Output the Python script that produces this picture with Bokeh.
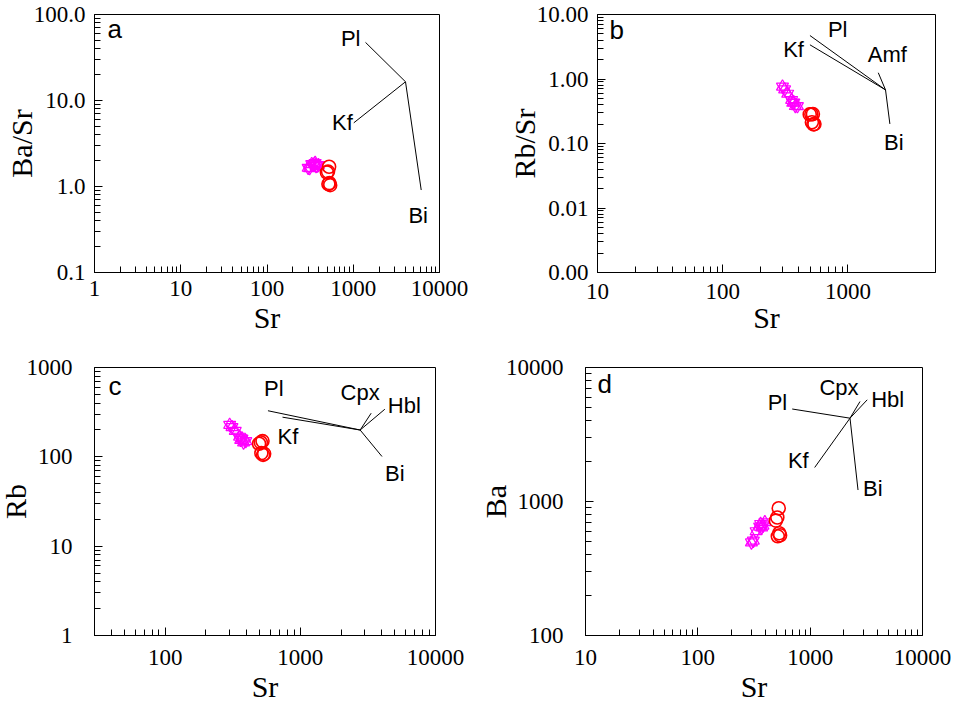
import math
from bokeh.plotting import figure
from bokeh.layouts import column, row
from bokeh.models import FixedTicker, CustomJSTickFormatter, Range1d, Title
from bokeh.core.properties import value
from bokeh.embed import file_html
from bokeh.resources import INLINE

# ---------------- data ----------------
# group 1 (red circles)
sr_g1 = [525, 510, 495, 530, 515, 540]
ba_g1 = [890, 760, 720, 580, 550, 560]
rb_g1 = [150, 145, 140, 105, 110, 108]
# group 2 (magenta stars)
sr_g2 = [300, 312, 330, 355, 362, 370, 380, 395]
ba_g2 = [495, 510, 600, 650, 680, 640, 660, 700]
rb_g2 = [228, 215, 195, 168, 155, 160, 145, 150]

# mineral vectors (pivot + end points) for each panel
vec_a_names = ["Pl", "Kf", "Bi"]
vec_a_pivot = [4036, 16.5]
vec_a_x = [1387, 1014, 6138]
vec_a_y = [47.4, 5.5, 0.91]

vec_b_names = ["Pl", "Kf", "Amf", "Bi"]
vec_b_pivot = [1995, 0.678]
vec_b_x = [497, 497, 1746, 2161]
vec_b_y = [4.72, 3.39, 1.25, 0.201]

vec_c_names = ["Pl", "Kf", "Cpx", "Hbl", "Bi"]
vec_c_pivot = [2770, 199.6]
vec_c_x = [576, 738, 3342, 4217, 4018]
vec_c_y = [328, 278, 308, 341, 100.9]

vec_d_names = ["Pl", "Kf", "Cpx", "Hbl", "Bi"]
vec_d_pivot = [2263, 4186]
vec_d_x = [692, 1097, 2778, 3221, 2667]
vec_d_y = [4900, 1794, 5575, 5742, 1218]

# derived ratios
basr_g1 = [b / s for b, s in zip(ba_g1, sr_g1)]
basr_g2 = [b / s for b, s in zip(ba_g2, sr_g2)]
rbsr_g1 = [r / s for r, s in zip(rb_g1, sr_g1)]
rbsr_g2 = [r / s for r, s in zip(rb_g2, sr_g2)]

# ---------------- styles ----------------
SERIF = "Liberation Serif"
SANS = "Liberation Sans"
RED = "#FF0000"
MAG = "#FF00FF"
TXT_SHIFT = -9  # compensates the renderer's baseline placement


def decades(e0, e1):
    return [10.0 ** e for e in range(e0, e1 + 1)]


def minors(e0, e1):
    return [m * 10.0 ** e for e in range(e0, e1) for m in range(2, 10)]


def make_fig(w, h, xr, yr, borders, xt, yt, xfmt, yfmt, xstand, ystand,
             xlab, ylab, xtitle_so, ytitle_so):
    p = figure(width=w, height=h, x_axis_type="log", y_axis_type="log",
               x_range=Range1d(*xr), y_range=Range1d(*yr),
               output_backend="svg", toolbar_location=None,
               min_border_left=borders[0], min_border_right=borders[1],
               min_border_top=borders[2], min_border_bottom=borders[3])
    p.xgrid.visible = False
    p.ygrid.visible = False
    p.outline_line_color = "black"
    p.outline_line_width = 1
    p.background_fill_color = "white"
    p.border_fill_color = "white"
    p.xaxis.ticker = FixedTicker(ticks=decades(*xt), minor_ticks=minors(*xt))
    p.yaxis.ticker = FixedTicker(ticks=decades(*yt), minor_ticks=minors(*yt))
    p.xaxis.formatter = CustomJSTickFormatter(code="return tick.toFixed(%d)" % xfmt)
    p.yaxis.formatter = CustomJSTickFormatter(code="return tick.toFixed(%d)" % yfmt)
    for ax in (p.xaxis[0], p.yaxis[0]):
        ax.axis_line_color = "black"
        ax.major_tick_in = 8
        ax.major_tick_out = 0
        ax.minor_tick_in = 6
        ax.minor_tick_out = 0
        ax.major_tick_line_color = "black"
        ax.minor_tick_line_color = "black"
        ax.major_label_text_font = SERIF
        ax.major_label_text_font_size = "23px"
        ax.major_label_text_color = "black"
    p.xaxis.major_label_standoff = xstand
    p.yaxis.major_label_standoff = ystand
    # axis titles as side titles (allowed to overlap the tick-label band)
    p.add_layout(Title(text=xlab, align="center", vertical_align="top",
                       text_font=SERIF, text_font_size="30px",
                       text_font_style="normal", text_color="black",
                       standoff=xtitle_so), "below")
    p.add_layout(Title(text=ylab, align="center", vertical_align="bottom",
                       text_font=SERIF, text_font_size="30px",
                       text_font_style="normal", text_color="black",
                       standoff=ytitle_so), "left")
    return p


def add_points(p, x1, y1, x2, y2):
    p.scatter(x2, y2, marker="triangle", size=12, fill_color=None,
              line_color=MAG, line_width=1.2)
    p.scatter(x2, y2, marker="inverted_triangle", size=12, fill_color=None,
              line_color=MAG, line_width=1.2)
    p.scatter(x1, y1, marker="circle", size=13, fill_color=None,
              line_color=RED, line_width=1.6)


def add_vectors(p, names, pivot, xs, ys, label_styles):
    n = len(xs)
    p.segment(x0=[pivot[0]] * n, y0=[pivot[1]] * n, x1=xs, y1=ys,
              line_color="black", line_width=1)
    for name, x, y in zip(names, xs, ys):
        align, dx, dy = label_styles[name]
        p.text(x=[x], y=[y], text=[name], text_font=value(SANS),
               text_font_size="22px", text_color="black",
               text_align=align, text_baseline="alphabetic",
               x_offset=dx, y_offset=dy + TXT_SHIFT)


def add_letter(p, letter, dx, dy):
    p.text(x=[p.x_range.start], y=[p.y_range.end], text=[letter],
           text_font=value(SANS), text_font_size="26px", text_color="black",
           text_align="left", text_baseline="alphabetic",
           x_offset=dx, y_offset=dy + TXT_SHIFT)


# ---------------- panel a ----------------
pa = make_fig(478, 350, (1, 10000), (0.1, 100), (94, 39, 14, 78),
              (0, 4), (-1, 2), 0, 1, 8, 9, "Sr", "Ba/Sr", 4, -14)
add_vectors(pa, vec_a_names, vec_a_pivot, vec_a_x, vec_a_y,
            {"Pl": ("right", -5, 5), "Kf": ("right", -1, 9), "Bi": ("center", -3, 34)})
add_points(pa, sr_g1, basr_g1, sr_g2, basr_g2)
add_letter(pa, "a", 13, 23)

# ---------------- panel b ----------------
pb = make_fig(478, 350, (10, 5000), (0.001, 10), (119, 21, 14, 77),
              (1, 3), (-3, 1), 0, 2, 11, 9, "Sr", "Rb/Sr", -2, -15)
add_vectors(pb, vec_b_names, vec_b_pivot, vec_b_x, vec_b_y,
            {"Pl": ("left", 18, 3), "Kf": ("right", -6, 14),
             "Amf": ("center", 9, -9), "Bi": ("center", 4, 28)})
add_points(pb, sr_g1, rbsr_g1, sr_g2, rbsr_g2)
add_letter(pb, "b", 12, 24)

# ---------------- panel c ----------------
pc = make_fig(478, 358, (30, 10000), (1, 1000), (94, 43, 17, 73),
              (2, 4), (0, 3), 0, 0, 14, 22, "Sr", "Rb", 4, -17)
pc.xaxis.ticker = FixedTicker(ticks=decades(2, 4), minor_ticks=minors(1, 4))
add_vectors(pc, vec_c_names, vec_c_pivot, vec_c_x, vec_c_y,
            {"Pl": ("left", -4, -13), "Kf": ("left", -5, 28), "Cpx": ("center", -11, -12),
             "Hbl": ("left", 3, 5), "Bi": ("left", 3, 26)})
add_points(pc, sr_g1, rb_g1, sr_g2, rb_g2)
add_letter(pc, "c", 14, 27)

# ---------------- panel d ----------------
pd_ = make_fig(478, 358, (10, 10000), (100, 10000), (107, 34, 17, 73),
               (1, 4), (2, 4), 0, 0, 14, 22, "Sr", "Ba", 4, -18)
add_vectors(pd_, vec_d_names, vec_d_pivot, vec_d_x, vec_d_y,
            {"Pl": ("right", -5, 2), "Kf": ("right", -6, 2), "Cpx": ("center", -21, -5),
             "Hbl": ("left", 4, 9), "Bi": ("left", 5, 7)})
add_points(pd_, sr_g1, ba_g1, sr_g2, ba_g2)
add_letter(pd_, "d", 12, 25)

layout = column(row(pa, pb), row(pc, pd_))
open("out.html", "w").write(file_html(layout, INLINE))
